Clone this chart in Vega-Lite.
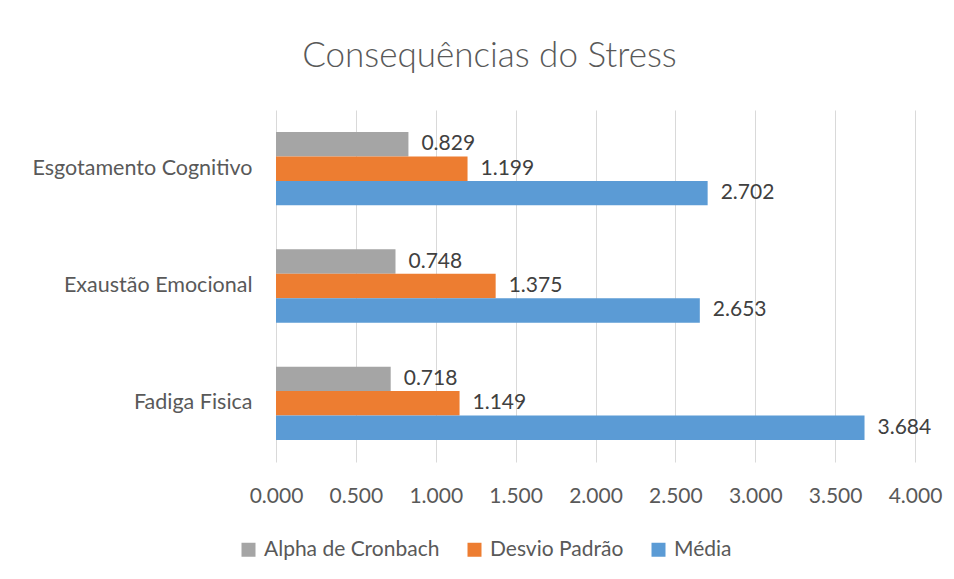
{
  "$schema": "https://vega.github.io/schema/vega-lite/v6.json",
  "width": 639,
  "height": 352,
  "autosize": "none",
  "padding": {"left": 276, "top": 110, "right": 39, "bottom": 117},
  "background": "white",
  "title": {
    "text": "Consequências do Stress",
    "font": "Lato",
    "fontSize": 35,
    "fontWeight": 300,
    "color": "#595959",
    "anchor": "middle",
    "dx": -106,
    "offset": 36
  },
  "data": {
    "values": [
      {"cat": "Esgotamento Cognitivo", "series": "Alpha de Cronbach", "value": 0.829},
      {"cat": "Esgotamento Cognitivo", "series": "Desvio Padrão", "value": 1.199},
      {"cat": "Esgotamento Cognitivo", "series": "Média", "value": 2.702},
      {"cat": "Exaustão Emocional", "series": "Alpha de Cronbach", "value": 0.748},
      {"cat": "Exaustão Emocional", "series": "Desvio Padrão", "value": 1.375},
      {"cat": "Exaustão Emocional", "series": "Média", "value": 2.653},
      {"cat": "Fadiga Fisica", "series": "Alpha de Cronbach", "value": 0.718},
      {"cat": "Fadiga Fisica", "series": "Desvio Padrão", "value": 1.149},
      {"cat": "Fadiga Fisica", "series": "Média", "value": 3.684}
    ]
  },
  "encoding": {
    "y": {
      "field": "cat",
      "type": "nominal",
      "sort": ["Esgotamento Cognitivo", "Exaustão Emocional", "Fadiga Fisica"],
      "scale": {"paddingInner": 0.375, "paddingOuter": 0.1875},
      "axis": {
        "title": null,
        "domain": false,
        "ticks": false,
        "labelFont": "Lato",
        "labelFontSize": 21.5,
        "labelColor": "#595959",
        "labelPadding": 24,
        "labelLimit": 400
      }
    },
    "yOffset": {
      "field": "series",
      "type": "nominal",
      "sort": ["Alpha de Cronbach", "Desvio Padrão", "Média"],
      "scale": {"paddingInner": 0, "paddingOuter": 0}
    },
    "x": {
      "field": "value",
      "type": "quantitative",
      "scale": {"domain": [0, 4], "nice": false},
      "axis": {
        "title": null,
        "domain": false,
        "ticks": false,
        "grid": true,
        "gridColor": "#d9d9d9",
        "gridWidth": 1,
        "values": [0, 0.5, 1, 1.5, 2, 2.5, 3, 3.5, 4],
        "format": ".3f",
        "labelFont": "Lato",
        "labelFontSize": 21,
        "labelColor": "#595959",
        "labelPadding": 23,
        "labelOverlap": false,
        "labelFlush": false,
        "labelLimit": 200
      }
    }
  },
  "layer": [
    {
      "mark": {"type": "bar"},
      "encoding": {
        "color": {
          "field": "series",
          "type": "nominal",
          "scale": {
            "domain": ["Alpha de Cronbach", "Desvio Padrão", "Média"],
            "range": ["#A5A5A5", "#ED7D31", "#5B9BD5"]
          },
          "legend": {
            "title": null,
            "orient": "none",
            "legendX": -38,
            "legendY": 429,
            "direction": "horizontal",
            "symbolType": "square",
            "symbolSize": 196,
            "symbolStrokeWidth": 0,
            "labelFont": "Lato",
            "labelFontSize": 21,
            "labelColor": "#595959",
            "labelOffset": 5,
            "labelLimit": 400,
            "columnPadding": 24
          }
        }
      }
    },
    {
      "mark": {"type": "text", "align": "left", "baseline": "middle", "dx": 13, "font": "Lato", "fontSize": 21, "color": "#404040"},
      "encoding": {
        "text": {"field": "value", "type": "quantitative", "format": ".3f"}
      }
    }
  ],
  "config": {"view": {"stroke": null}}
}
